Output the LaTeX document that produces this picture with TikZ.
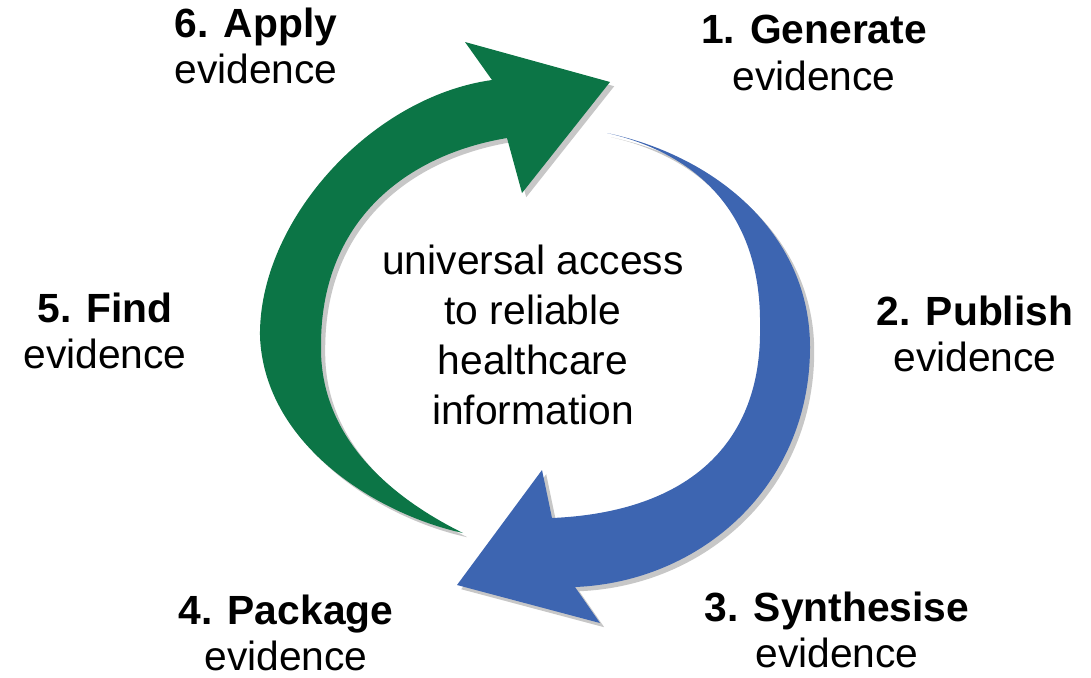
\documentclass[tikz,border=0pt]{standalone}
\usepackage{xcolor}
\usepackage{fontspec}
\setmainfont{Liberation Sans}
\usetikzlibrary{shadows}
\definecolor{cyclegreen}{RGB}{12,117,70}
\definecolor{cycleblue}{RGB}{61,101,177}
\tikzset{
  stage/.style={align=center,font=\fontsize{11.6}{13.3}\selectfont},
  hub/.style={align=center,font=\fontsize{11.6}{14.2}\selectfont},
  band/.style={drop shadow={shadow xshift=1.2pt,shadow yshift=-1.2pt,opacity=0.22,fill=black}}
}
\begin{document}
\begin{tikzpicture}
\useasboundingbox (0,0) rectangle (10.91,6.77);
% green arrow, bottom left up to the top
\fill[cyclegreen,band] (4.63,1.44) .. controls (3.80,1.62) and (2.65,2.30) .. (2.60,3.40)
  .. controls (2.58,4.55) and (3.70,5.80) .. (4.92,5.97)
  -- (4.65,6.35) -- (6.10,5.95) -- (5.22,4.84) -- (5.07,5.39)
  .. controls (4.05,5.22) and (3.20,4.55) .. (3.21,3.30)
  .. controls (3.20,2.40) and (3.90,1.80) .. (4.63,1.44) -- cycle;
% blue arrow, top right down to the bottom
\fill[cycleblue,band] (6.07,5.44) .. controls (7.20,5.20) and (8.10,4.40) .. (8.10,3.30)
  .. controls (8.10,1.90) and (7.00,0.95) .. (5.75,0.90)
  -- (6.00,0.54) -- (4.57,0.92) -- (5.42,2.07) -- (5.52,1.59)
  .. controls (6.90,1.65) and (7.62,2.35) .. (7.60,3.50)
  .. controls (7.62,4.70) and (6.90,5.25) .. (6.07,5.44) -- cycle;
\node[stage] (apply) at (2.56,6.31) {\textbf{6. Apply}\\evidence};
\node[stage] (generate) at (8.14,6.24) {\textbf{1. Generate}\\evidence};
\node[stage] (find) at (1.05,3.46) {\textbf{5. Find}\\evidence};
\node[stage] (publish) at (9.75,3.43) {\textbf{2. Publish}\\evidence};
\node[stage] (package) at (2.86,0.44) {\textbf{4. Package}\\evidence};
\node[stage] (synthesise) at (8.37,0.47) {\textbf{3. Synthesise}\\evidence};
\node[hub] (access) at (5.33,3.42) {universal access\\to reliable\\healthcare\\information};
\end{tikzpicture}
\end{document}
